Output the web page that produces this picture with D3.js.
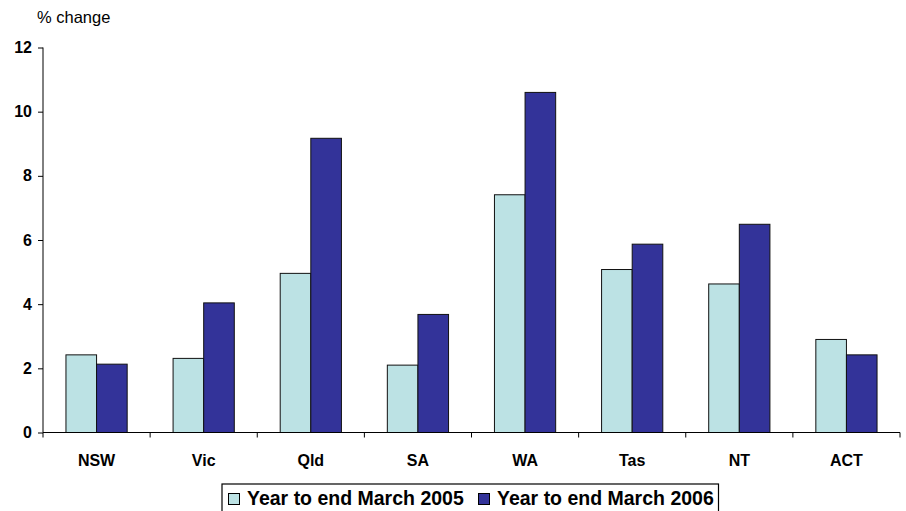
<!DOCTYPE html>
<html>
<head>
<meta charset="utf-8">
<script src="https://cdn.jsdelivr.net/npm/d3@7/dist/d3.min.js"></script>
<style>
  html, body { margin: 0; padding: 0; background: #fff; }
  svg { display: block; font-family: Arial, "Liberation Sans", sans-serif; }
</style>
</head>
<body>
<svg id="chart" width="906" height="511"></svg>
<script>
// States and territories along the x axis
const states = ["NSW", "Vic", "Qld", "SA", "WA", "Tas", "NT", "ACT"];
// Series names, in legend order
const seriesNames = ["Year to end March 2005", "Year to end March 2006"];
// Percentage change for each state, one array per series
const values2005 = [2.42, 2.31, 4.96, 2.10, 7.41, 5.08, 4.63, 2.90];
const values2006 = [2.13, 4.04, 9.17, 3.68, 10.60, 5.87, 6.49, 2.42];
// Y axis tick values
const yTicks = [0, 2, 4, 6, 8, 10, 12];
const yLabel = "% change";

const seriesColors = ["#bce2e4", "#333399"];
const seriesValues = [values2005, values2006];

const svg = d3.select("#chart");
const plot = { left: 43, right: 900, top: 47.5, bottom: 432.5 };

const x0 = d3.scaleBand().domain(states).range([plot.left, plot.right]).padding(0);
const x1 = d3.scaleBand().domain(seriesNames).range([0, x0.bandwidth()])
  .paddingInner(0).paddingOuter(0.75);
const y = d3.scaleLinear().domain([0, 12]).range([plot.bottom, plot.top]);

// Bars
const groups = svg.append("g").selectAll("g")
  .data(states)
  .join("g")
  .attr("transform", d => `translate(${x0(d)},0)`);

groups.selectAll("rect")
  .data((d, i) => seriesNames.map((s, k) => ({ s, k, v: seriesValues[k][i] })))
  .join("rect")
  .attr("x", d => x1(d.s))
  .attr("y", d => y(d.v))
  .attr("width", x1.bandwidth())
  .attr("height", d => y(0) - y(d.v))
  .attr("fill", d => seriesColors[d.k])
  .attr("stroke", "#111")
  .attr("stroke-width", 1);

// Y axis
const yAxis = d3.axisLeft(y).tickValues(yTicks).tickSize(5).tickPadding(6).tickFormat(d3.format("d"));
const gy = svg.append("g").attr("transform", `translate(${plot.left},0)`).call(yAxis);
gy.select(".domain").attr("stroke", "#000").attr("d", `M0,${plot.top}V${plot.bottom}`);
gy.selectAll(".tick line").attr("stroke", "#000");
gy.selectAll(".tick text")
  .attr("font-size", 16).attr("font-weight", "bold").attr("fill", "#000")
  .attr("font-family", "Arial, 'Liberation Sans', sans-serif");

// X axis: baseline with ticks at category boundaries
const gx = svg.append("g").attr("transform", `translate(0,${plot.bottom})`);
gx.append("line").attr("x1", plot.left).attr("x2", plot.right)
  .attr("stroke", "#000");
const boundaries = states.map(s => x0(s)).concat([x0.range()[1]]);
gx.selectAll("line.tick").data(boundaries).join("line")
  .attr("class", "tick")
  .attr("x1", d => d).attr("x2", d => d)
  .attr("y1", 0).attr("y2", 5)
  .attr("stroke", "#000");
gx.selectAll("text").data(states).join("text")
  .attr("x", d => x0(d) + x0.bandwidth() / 2)
  .attr("y", 33)
  .attr("text-anchor", "middle")
  .attr("font-size", 16).attr("font-weight", "bold")
  .text(d => d);

// Axis title
svg.append("text").attr("x", 37).attr("y", 23)
  .attr("font-size", 16.5).text(yLabel);

// Legend
const legend = svg.append("g");
legend.append("rect")
  .attr("x", 222).attr("y", 484).attr("width", 496.5).attr("height", 40)
  .attr("fill", "#fff").attr("stroke", "#000").attr("stroke-width", 1.2);
const legendX = [228, 478];
const items = legend.selectAll("g.item").data(seriesNames).join("g")
  .attr("class", "item")
  .attr("transform", (d, i) => `translate(${legendX[i]},0)`);
items.append("rect")
  .attr("x", 0.5).attr("y", 493.5).attr("width", 11).attr("height", 11)
  .attr("fill", (d, i) => seriesColors[i]).attr("stroke", "#000");
items.append("text")
  .attr("x", 19).attr("y", 505)
  .attr("font-size", 19.5).attr("font-weight", "bold")
  .text(d => d);
</script>
</body>
</html>
